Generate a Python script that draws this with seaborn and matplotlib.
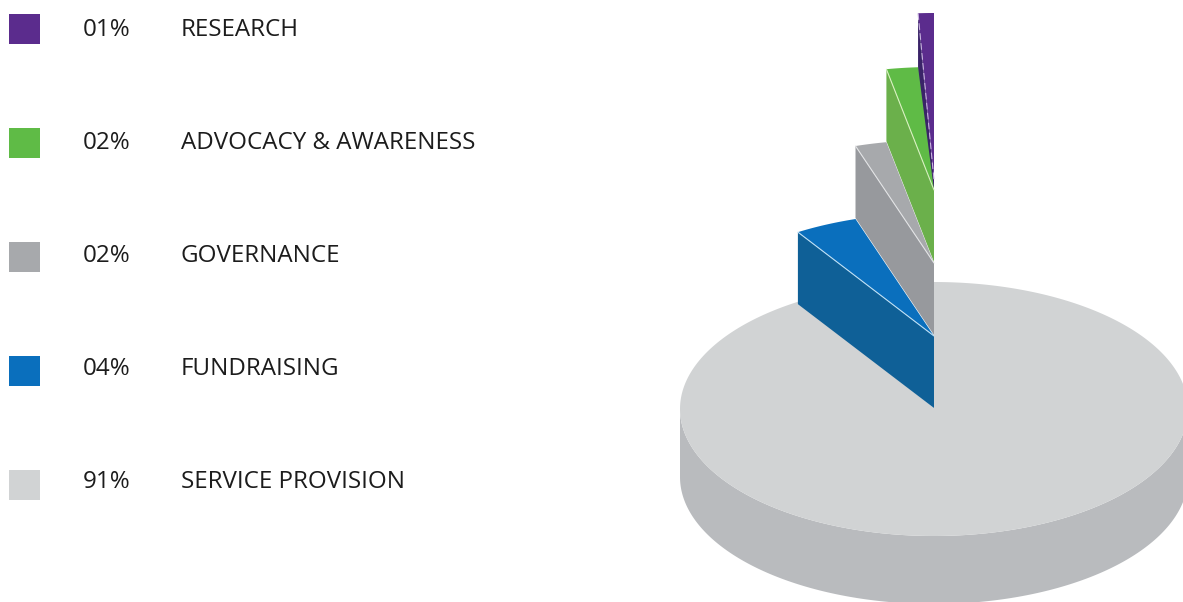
import numpy as np
import pandas as pd
import matplotlib
matplotlib.use("Agg")
import matplotlib.pyplot as plt
import seaborn as sns

# Expense shares, listed from the top legend row to the bottom one
categories = ["RESEARCH", "ADVOCACY & AWARENESS", "GOVERNANCE", "FUNDRAISING", "SERVICE PROVISION"]
shares = [1, 2, 2, 4, 91]
share_labels = ["01%", "02%", "02%", "04%", "91%"]

top_colors = ["#5B2C8D", "#5FBB46", "#A7A9AC", "#0A6FBD", "#D1D3D4"]
side_colors = ["#3A2368", "#6BB04B", "#97999D", "#0F6097", "#B9BBBE"]
edge_colors = ["#C9B4E0", "#D8F0C0", "#E2E3E5", "#BFE0F5", "#D1D3D4"]

# Projection of the pie onto the page, in pixels
CX, CY, RX = 934, 408, 254
BASE_RY, SLICE_RY = 127, 123
MAIN_DEPTH, SLICE_DEPTH = 68, 72
lifts = [272, 218, 145, 72]      # how far each small slice floats above the base
apex_drop = [44, 0, 0, 0]        # the narrow top slice has its tip pulled down

sns.set_theme(style="white")
plt.rcParams["font.family"] = ["Open Sans", "DejaVu Sans"]

fig = plt.figure(figsize=(11.83, 6.02), dpi=100)
ax = fig.add_axes([0, 0, 1, 1])


def rim(theta, cy, ry):
    """Point on the projected rim; theta runs anticlockwise from twelve o'clock."""
    return CX - RX * np.sin(theta), cy - ry * np.cos(theta)


# Slices are stacked anticlockwise from twelve o'clock
bounds = np.radians(np.cumsum([0] + shares) * 3.6)

# Base slice: the large remainder of the pie
t = np.linspace(bounds[4], 2 * np.pi, 300)
x, y = rim(t, CY + 1, BASE_RY)
t_side = np.linspace(np.pi / 2, 3 * np.pi / 2, 200)
xs, ys = rim(t_side, CY + 1, BASE_RY)
ax.fill(np.r_[xs, xs[::-1]], np.r_[ys, ys[::-1] + MAIN_DEPTH], color=side_colors[4], lw=0)
ax.fill(np.r_[CX, x], np.r_[CY, y], color=top_colors[4], lw=0)

# Raised slices, drawn back to front
for i in range(4):
    cy = CY - lifts[i]
    t = np.linspace(bounds[i], bounds[i + 1], 30)
    x, y = rim(t, cy, SLICE_RY)
    apex_y = cy + apex_drop[i]
    ox, oy = x[-1], y[-1]
    ax.fill([ox, CX, CX, ox], [oy, apex_y, apex_y + SLICE_DEPTH, oy + SLICE_DEPTH],
            color=side_colors[i], lw=0)
    ax.fill(np.r_[CX, x], np.r_[apex_y, y], color=top_colors[i], lw=0)
    ax.plot([ox, CX], [oy, apex_y], color=edge_colors[i], lw=0.8,
            ls=(0, (6, 3)) if i == 0 else "-")

# Legend swatches and their two text columns
legend = pd.DataFrame({
    "category": categories,
    "x": 24.5,
    "y": 29 + 114 * np.arange(len(categories)),
})
sns.scatterplot(data=legend, x="x", y="y", hue="category", palette=top_colors,
                marker="s", s=485, linewidth=0, legend=False, ax=ax)
ax.set_xlim(0, 1183)
ax.set_ylim(602, 0)
ax.axis("off")

text_rows = 30 + 113 * np.arange(len(categories))
for row, label, pct in zip(text_rows, categories, share_labels):
    ax.text(83, row, pct, fontsize=17.4, color="#1C1C1C", va="center", ha="left")
    ax.text(181, row, label, fontsize=17.4, color="#1C1C1C", va="center", ha="left")

fig.savefig("out.png", dpi=100, facecolor="white")
